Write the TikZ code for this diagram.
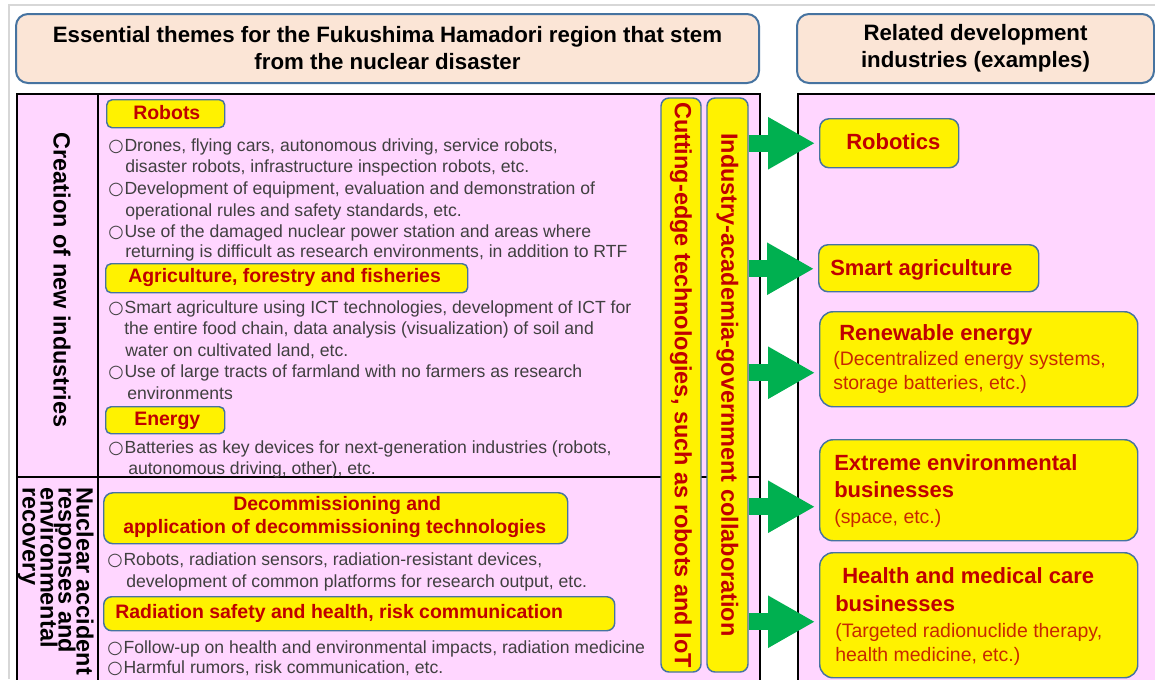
\documentclass[tikz,border=0pt]{standalone}
\usepackage{fontspec}
\setmainfont{Liberation Sans}
\newfontfamily\dejavu{DejaVu Sans}
\usetikzlibrary{arrows.meta,calc}
\def\u{0.75pt}
\definecolor{pinkbg}{RGB}{255,214,255}
\definecolor{peach}{RGB}{251,229,214}
\definecolor{bdr}{RGB}{70,115,160}
\definecolor{tred}{RGB}{192,0,0}
\definecolor{subred}{RGB}{200,40,0}
\definecolor{bodyg}{RGB}{64,64,64}
\definecolor{garr}{RGB}{0,176,80}
\definecolor{frameg}{RGB}{215,215,215}
\newcommand\fhead{\fontsize{16.7}{20.25}\selectfont\bfseries}
\newcommand\flab{\fontsize{14.6}{17}\selectfont\bfseries}
\newcommand\fbody{\fontsize{13.2}{15}\selectfont}
\newcommand\frt{\fontsize{16.5}{19}\selectfont\bfseries}
\newcommand\frs{\fontsize{14.6}{17}\selectfont}
\newcommand\fbar{\fontsize{17.6}{20}\selectfont\bfseries}
\newcommand\fnuc{\fontsize{17.6}{13.5}\selectfont\bfseries\lineskiplimit=-30pt\lineskip=0pt}
\newcommand\bul{\makebox[12.2pt][l]{\dejavu ○}}
\begin{document}
\begin{tikzpicture}[x=0.75pt,y=-0.75pt,
  hdr/.style={draw=bdr, line width=1.5pt, fill=peach, rounded corners=9pt, font=\fhead, align=center, text=black, inner sep=0pt},
  panel/.style={draw=black, line width=1.5pt, fill=pinkbg, inner sep=0pt, anchor=north west},
  divline/.style={draw=black, line width=1.5pt},
  ylab/.style={draw=bdr, line width=1.1pt, fill=yellow, rounded corners=4pt, inner sep=0pt, anchor=north west},
  ybox/.style={draw=bdr, line width=1.1pt, fill=yellow, rounded corners=10pt, inner sep=0pt, anchor=north west},
  ybar/.style={draw=bdr, line width=1.1pt, fill=yellow, rounded corners=6pt, inner sep=0pt, rotate=-90, font=\fbar, text=tred},
  labt/.style={font=\flab, text=tred, anchor=base west, inner sep=0pt},
  body/.style={font=\fbody, text=bodyg, anchor=base west, inner sep=0pt},
  rtitle/.style={font=\frt, text=tred, anchor=base west, inner sep=0pt},
  rsub/.style={font=\frs, text=subred, anchor=base west, inner sep=0pt},
  garrow/.style={draw=garr, line width=12.75pt, -{Triangle[length=35.25pt,width=36.75pt]}, shorten >=3pt}
]
\clip (0,0) rectangle (1155,679);
\fill[white] (0,0) rectangle (1155,679);
% screenshot frame
\draw[frameg, line width=1.2pt] (9,679) -- (9,5) -- (1160,5);

% headers
\node[hdr, minimum width=743*\u, minimum height=69*\u] (hl) at (387.5,48.5)
  {Essential themes for the Fukushima Hamadori region that stem\\from the nuclear disaster};
\node[hdr, minimum width=357*\u, minimum height=69*\u] (hr) at (975.5,48.5)
  {Related development\\industries (examples)};

% panels
\node[panel, minimum width=743*\u, minimum height=597*\u] (lp) at (16,93) {};
\node[panel, minimum width=368*\u, minimum height=597*\u] (rp) at (797,93) {};
\draw[divline] (98,93) -- (98,690);
\draw[divline] (16,477) -- (759,477);

% left column titles
\node[font=\fbar, text=black, rotate=-90, inner sep=0pt] (cni) at (62,280) {Creation of new industries};
\node[font=\fnuc, text=black, rotate=-90, align=left, anchor=north west, inner sep=0pt] (nuc) at (94,487)
  {Nuclear accident\\responses and\\environmental\\recovery};

% section labels
\node[ylab, minimum width=118*\u, minimum height=28*\u] (robl) at (106,99) {};
\node[labt] (robt) at (133,119) {Robots};
\node[ylab, minimum width=362*\u, minimum height=29*\u] (agrl) at (105,263) {};
\node[labt] (agrt) at (128,282) {Agriculture, forestry and fisheries};
\node[ylab, minimum width=119*\u, minimum height=27*\u] (enl) at (105,406) {};
\node[labt] (ent) at (134,425) {Energy};
\node[ylab, minimum width=464*\u, minimum height=51*\u, rounded corners=7pt] (del) at (103,492) {};
\node[labt] (det1) at (233,510) {Decommissioning and};
\node[labt] (det2) at (123,533) {application of decommissioning technologies};
\node[ylab, minimum width=511*\u, minimum height=34*\u, rounded corners=6pt] (ral) at (103,596) {};
\node[labt] (rat) at (115,618) {Radiation safety and health, risk communication};

% body text
\node[body] (b1) at (108,151) {\bul Drones, flying cars, autonomous driving, service robots,};
\node[body] (b2) at (125,172) {disaster robots, infrastructure inspection robots, etc.};
\node[body] (b3) at (108,194) {\bul Development of equipment, evaluation and demonstration of};
\node[body] (b4) at (125,216) {operational rules and safety standards, etc.};
\node[body] (b5) at (108,237) {\bul Use of the damaged nuclear power station and areas where};
\node[body] (b6) at (125,257) {returning is difficult as research environments, in addition to RTF};
\node[body] (b7) at (108,313) {\bul Smart agriculture using ICT technologies, development of ICT for};
\node[body] (b8) at (124,334) {the entire food chain, data analysis (visualization) of soil and};
\node[body] (b9) at (125,356) {water on cultivated land, etc.};
\node[body] (b10) at (108,377) {\bul Use of large tracts of farmland with no farmers as research};
\node[body] (b11) at (127,399) {environments};
\node[body] (b12) at (108,453) {\bul Batteries as key devices for next-generation industries (robots,};
\node[body] (b13) at (128,474) {autonomous driving, other), etc.};
\node[body] (b14) at (107,565) {\bul Robots, radiation sensors, radiation-resistant devices,};
\node[body] (b15) at (126,587) {development of common platforms for research output, etc.};
\node[body] (b16) at (107,653) {\bul Follow-up on health and environmental impacts, radiation medicine};
\node[body] (b17) at (107,673) {\bul Harmful rumors, risk communication, etc.};

% vertical bars
\node[ybar, minimum width=574*\u, minimum height=40*\u] (cbar) at (681,385)
  {Cutting-edge technologies, such as robots and IoT};
\node[ybar, minimum width=574*\u, minimum height=41*\u] (ibar) at (727.5,385)
  {Industry-academia-government collaboration};

% right boxes
\node[ybox, minimum width=139*\u, minimum height=49*\u, rounded corners=7pt] (robo) at (819,118) {};
\node[rtitle] (robot) at (846,149.5) {Robotics};
\node[ybox, minimum width=220*\u, minimum height=47*\u, rounded corners=7pt] (smart) at (818,244) {};
\node[rtitle] (smartt) at (830,275) {Smart agriculture};
\node[ybox, minimum width=318*\u, minimum height=95*\u] (renew) at (819,311) {};
\node[rtitle] (rent1) at (839,340) {Renewable energy};
\node[rsub] (rent2) at (833,365) {(Decentralized energy systems,};
\node[rsub] (rent3) at (833,389) {storage batteries, etc.)};
\node[ybox, minimum width=318*\u, minimum height=101*\u] (extr) at (819,439) {};
\node[rtitle] (ext1) at (834,470) {Extreme environmental};
\node[rtitle] (ext2) at (834,497) {businesses};
\node[rsub] (ext3) at (834,523) {(space, etc.)};
\node[ybox, minimum width=318*\u, minimum height=125*\u] (hlth) at (819,552) {};
\node[rtitle] (hlt1) at (842,583) {Health and medical care};
\node[rtitle] (hlt2) at (835,611) {businesses};
\node[rsub] (hlt3) at (835,637) {(Targeted radionuclide therapy,};
\node[rsub] (hlt4) at (835,661) {health medicine, etc.)};

% arrows
\coordinate (a1) at (robo.west);
\coordinate (a2) at ($(smart.west)+(0,0.5)$);
\coordinate (a3) at ($(renew.west)+(0,13.5)$);
\coordinate (a4) at ($(extr.west)+(0,16.5)$);
\coordinate (a5) at ($(hlth.west)+(0,6.5)$);
\foreach \a in {a1,a2,a3,a4,a5}
  \draw[garrow] (ibar.north |- \a) -- (\a);
\end{tikzpicture}
\end{document}
